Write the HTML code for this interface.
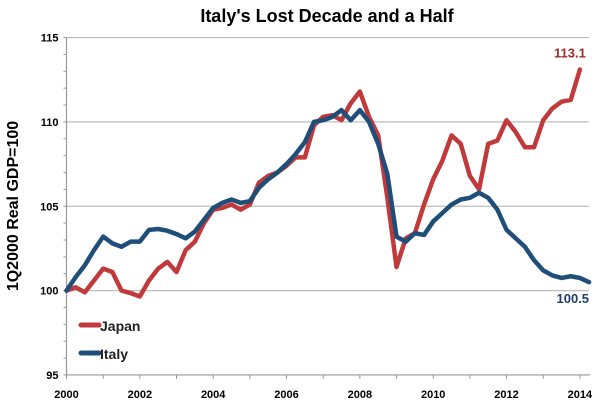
<!DOCTYPE html>
<html><head><meta charset="utf-8"><style>
body{margin:0;background:#fff}
svg{display:block;font-family:"Liberation Sans",sans-serif}
</style></head><body>
<svg id="chart" width="600" height="405" viewBox="0 0 600 405">
<text x="327" y="22" text-anchor="middle" font-size="18" font-weight="bold" fill="#000">Italy's Lost Decade and a Half</text>
<text transform="translate(18,206) rotate(-90)" text-anchor="middle" font-size="16" font-weight="bold">1Q2000 Real GDP=100</text>
<g id="grid"></g><g id="axes"></g><g id="series"></g>
<g>
<line x1="81" y1="325" x2="99" y2="325" stroke="#c0393b" stroke-width="5" stroke-linecap="round"/>
<text x="100" y="331" font-size="14" font-weight="bold" fill="#222">Japan</text>
<line x1="81" y1="353" x2="99" y2="353" stroke="#1f4e79" stroke-width="5" stroke-linecap="round"/>
<text x="100" y="359" font-size="14" font-weight="bold" fill="#222">Italy</text>
</g>
</svg>
<script>
const japan=[100,100.2,99.9,100.6,101.3,101.1,100,99.85,99.65,100.6,101.3,101.7,101.1,102.4,102.9,104,104.8,104.9,105.1,104.8,105.1,106.4,106.8,107,107.4,107.9,107.9,109.8,110.3,110.4,110.1,111.1,111.8,110.3,109.2,105.5,101.4,103.1,103.4,105.1,106.6,107.7,109.2,108.7,106.8,106,108.7,108.9,110.1,109.4,108.5,108.5,110.1,110.8,111.2,111.3,113.1];
const italy=[100,100.8,101.5,102.4,103.2,102.8,102.6,102.9,102.9,103.6,103.65,103.55,103.35,103.1,103.5,104.2,104.9,105.2,105.4,105.2,105.3,106.1,106.6,107,107.5,108.1,108.8,110,110.1,110.3,110.7,110.1,110.7,110,108.7,106.9,103.2,102.9,103.4,103.3,104.1,104.6,105.1,105.4,105.5,105.8,105.5,104.8,103.6,103.1,102.6,101.8,101.2,100.9,100.75,100.85,100.75,100.5];
const yTicks=[95,100,105,110,115];
const xTicks=[2000,2002,2004,2006,2008,2010,2012,2014];
const ns="http://www.w3.org/2000/svg";
const X0=66.5,PX=36.67,Y100=290.6,PY=16.87;
const xq=i=>X0+i*PX/4, xy=y=>X0+(y-2000)*PX, yv=v=>Y100-(v-100)*PY;
function mk(t,a,p){const e=document.createElementNS(ns,t);for(const k in a)e.setAttribute(k,a[k]);p.appendChild(e);return e;}
const grid=document.getElementById('grid'),axes=document.getElementById('axes'),ser=document.getElementById('series');
yTicks.forEach(v=>{
 if(v>95){const l=mk('line',{x1:X0,x2:589,y1:yv(v),y2:yv(v),stroke:'#bdbdbd','stroke-width':1.2},grid);
 
 }
 const t=mk('text',{x:X0-8,y:yv(v)+4,'text-anchor':'end','font-size':11,'font-weight':'bold'},axes);t.textContent=v;
 
 
});
for(let v=95;v<=115;v++)mk('line',{x1:X0-3,x2:X0,y1:yv(v),y2:yv(v),stroke:'#999'},axes);
mk('line',{x1:X0,x2:X0,y1:yv(115),y2:yv(95),stroke:'#999','stroke-width':1.2},axes);
mk('line',{x1:X0,x2:590,y1:yv(95),y2:yv(95),stroke:'#999','stroke-width':1.2},axes);
for(let y=2000;y<=2014;y++)mk('line',{x1:xy(y),x2:xy(y),y1:yv(95),y2:yv(95)+4,stroke:'#999'},axes);
xTicks.forEach(y=>{const t=mk('text',{x:xy(y),y:398,'text-anchor':'middle','font-size':11,'font-weight':'bold'},axes);t.textContent=y;
 
 });
function line(d,c,n){const p=mk('polyline',{points:d.map((v,i)=>xq(i)+','+yv(v)).join(' '),fill:'none',stroke:c,'stroke-width':4.5,'stroke-linejoin':'round','stroke-linecap':'round'},ser);
 
 }
line(japan,'#c0393b','japan-line');
line(italy,'#1f4e79','italy-line');
const lj=mk('text',{x:xq(japan.length-1)+6,y:yv(japan[japan.length-1])-12,'text-anchor':'end','font-size':13,'font-weight':'bold',fill:'#a52a2a'},ser);lj.textContent=japan[japan.length-1].toFixed(1);


const li=mk('text',{x:xq(italy.length-1),y:yv(italy[italy.length-1])+21,'text-anchor':'end','font-size':13,'font-weight':'bold',fill:'#1f3f6b'},ser);li.textContent=italy[italy.length-1].toFixed(1);


</script>
</body></html>
